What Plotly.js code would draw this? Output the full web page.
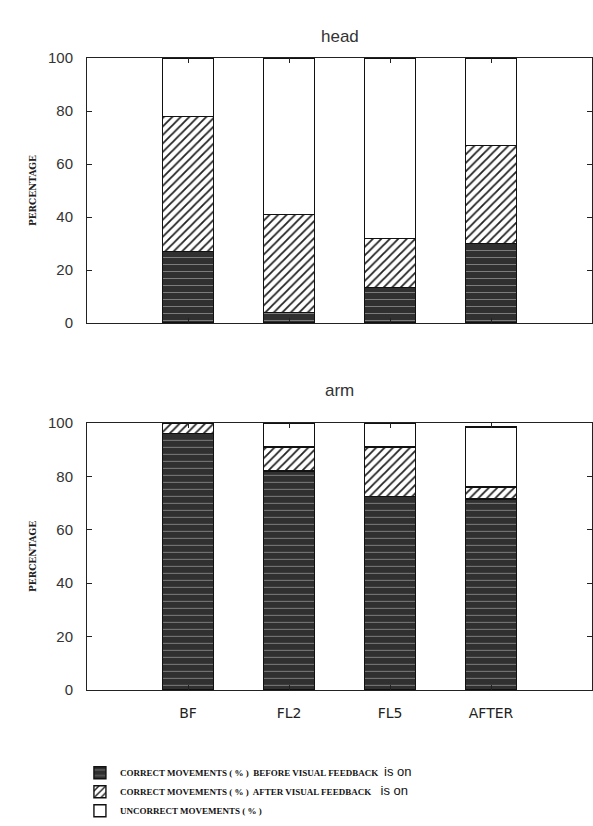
<!DOCTYPE html>
<html>
<head>
<meta charset="utf-8">
<script src="https://cdn.plot.ly/plotly-3.0.1.min.js"></script>
<style>html,body{margin:0;padding:0;background:#fff;}#chart{width:593px;height:826px;}</style>
</head>
<body>
<div id="chart"></div>
<script>
// ---- data ----
const categories = ['BF', 'FL2', 'FL5', 'AFTER'];
const headBefore    = [27, 4, 13.5, 30];
const headAfter     = [51, 37, 18.5, 37];
const headIncorrect = [22, 59, 68, 33];
const armBefore     = [96, 82, 72.5, 71.5];
const armAfter      = [4, 9, 18.5, 4.5];
const armIncorrect  = [0, 9, 9, 22.5];
const yTicks = [0, 20, 40, 60, 80, 100];
const seriesNames = [
  'CORRECT MOVEMENTS ( % )  BEFORE VISUAL FEEDBACK <span style="font-family:Liberation Sans;font-size:13px;font-weight:normal"> is on</span>',
  'CORRECT MOVEMENTS ( % )  AFTER VISUAL FEEDBACK <span style="font-family:Liberation Sans;font-size:13px;font-weight:normal">  is on</span>',
  'UNCORRECT MOVEMENTS ( % )'
];

const outline = {color: '#111', width: 1.4};
const darkMarker = {color: '#303030', line: outline,
  pattern: {shape: '-', fgcolor: '#8a8a8a', bgcolor: '#303030', size: 7, solidity: 0.12}};
const hatchMarker = {color: '#fff', line: outline,
  pattern: {shape: '/', fgcolor: '#222', bgcolor: '#fff', size: 6, solidity: 0.3}};
const whiteMarker = {color: '#fff', line: outline};

function bar(y, marker, name, xa, ya, show) {
  return {type: 'bar', x: categories, y: y, name: name, marker: marker,
    width: 0.5, xaxis: xa, yaxis: ya, showlegend: show, hoverinfo: 'skip'};
}

const data = [
  bar(headBefore, darkMarker, seriesNames[0], 'x', 'y', true),
  bar(headAfter, hatchMarker, seriesNames[1], 'x', 'y', true),
  bar(headIncorrect, whiteMarker, seriesNames[2], 'x', 'y', true),
  bar(armBefore, darkMarker, seriesNames[0], 'x2', 'y2', false),
  bar(armAfter, hatchMarker, seriesNames[1], 'x2', 'y2', false),
  bar(armIncorrect, whiteMarker, seriesNames[2], 'x2', 'y2', false)
];

const tickFont = {family: 'Liberation Sans, Arial, sans-serif', size: 15, color: '#333'};
function yaxis(dom, anchor) {
  return {domain: dom, anchor: anchor, range: [0, 100], tickvals: yTicks,
    ticks: 'inside', ticklen: 5, tickcolor: '#222', mirror: 'ticks',
    showline: true, linecolor: '#222', linewidth: 1, showgrid: false, zeroline: false,
    tickfont: tickFont, ticklabelstandoff: 10,
    title: {text: '<b>PERCENTAGE</b>', font: {family: 'DejaVu Serif Condensed, DejaVu Serif, serif', size: 10, color: '#222'}, standoff: 9},
    automargin: false, fixedrange: true};
}
function xaxis(anchor, showLabels) {
  return {anchor: anchor, type: 'category', range: [-1, 4],
    ticks: 'inside', ticklen: 5, tickcolor: '#222', mirror: 'ticks',
    showline: true, linecolor: '#222', linewidth: 1, showgrid: false, zeroline: false,
    showticklabels: showLabels,
    tickfont: {family: 'DejaVu Sans, sans-serif', size: 14, color: '#222'},
    ticklabelstandoff: 10, automargin: false, fixedrange: true};
}

const layout = {
  width: 593, height: 826,
  margin: {l: 87, r: 1, t: 58, b: 134},
  paper_bgcolor: '#fff', plot_bgcolor: '#fff',
  barmode: 'stack', bargap: 0.5,
  showlegend: true,
  xaxis: xaxis('y', false),
  yaxis: yaxis([0.5804, 1], 'x'),
  xaxis2: xaxis('y2', true),
  yaxis2: yaxis([0, 0.4227], 'x2'),
  legend: {x: -0.014, xanchor: 'left', y: -0.108, yanchor: 'top',
    traceorder: 'normal', orientation: 'v',
    font: {family: 'Liberation Serif, serif', size: 9, color: '#111', weight: 'bold'},
    bgcolor: 'rgba(0,0,0,0)', itemwidth: 30},
  annotations: [
    {text: 'head', xref: 'x domain', yref: 'paper', x: 0.5, y: 1, yshift: 33,
      showarrow: false, font: {family: 'Liberation Sans, Arial, sans-serif', size: 17, color: '#333'}},
    {text: 'arm', xref: 'x2 domain', yref: 'paper', x: 0.5, y: 0.4227, yshift: 32,
      showarrow: false, font: {family: 'Liberation Sans, Arial, sans-serif', size: 17, color: '#333'}}
  ]
};

Plotly.newPlot('chart', data, layout, {displayModeBar: false, staticPlot: true});
</script>
</body>
</html>
